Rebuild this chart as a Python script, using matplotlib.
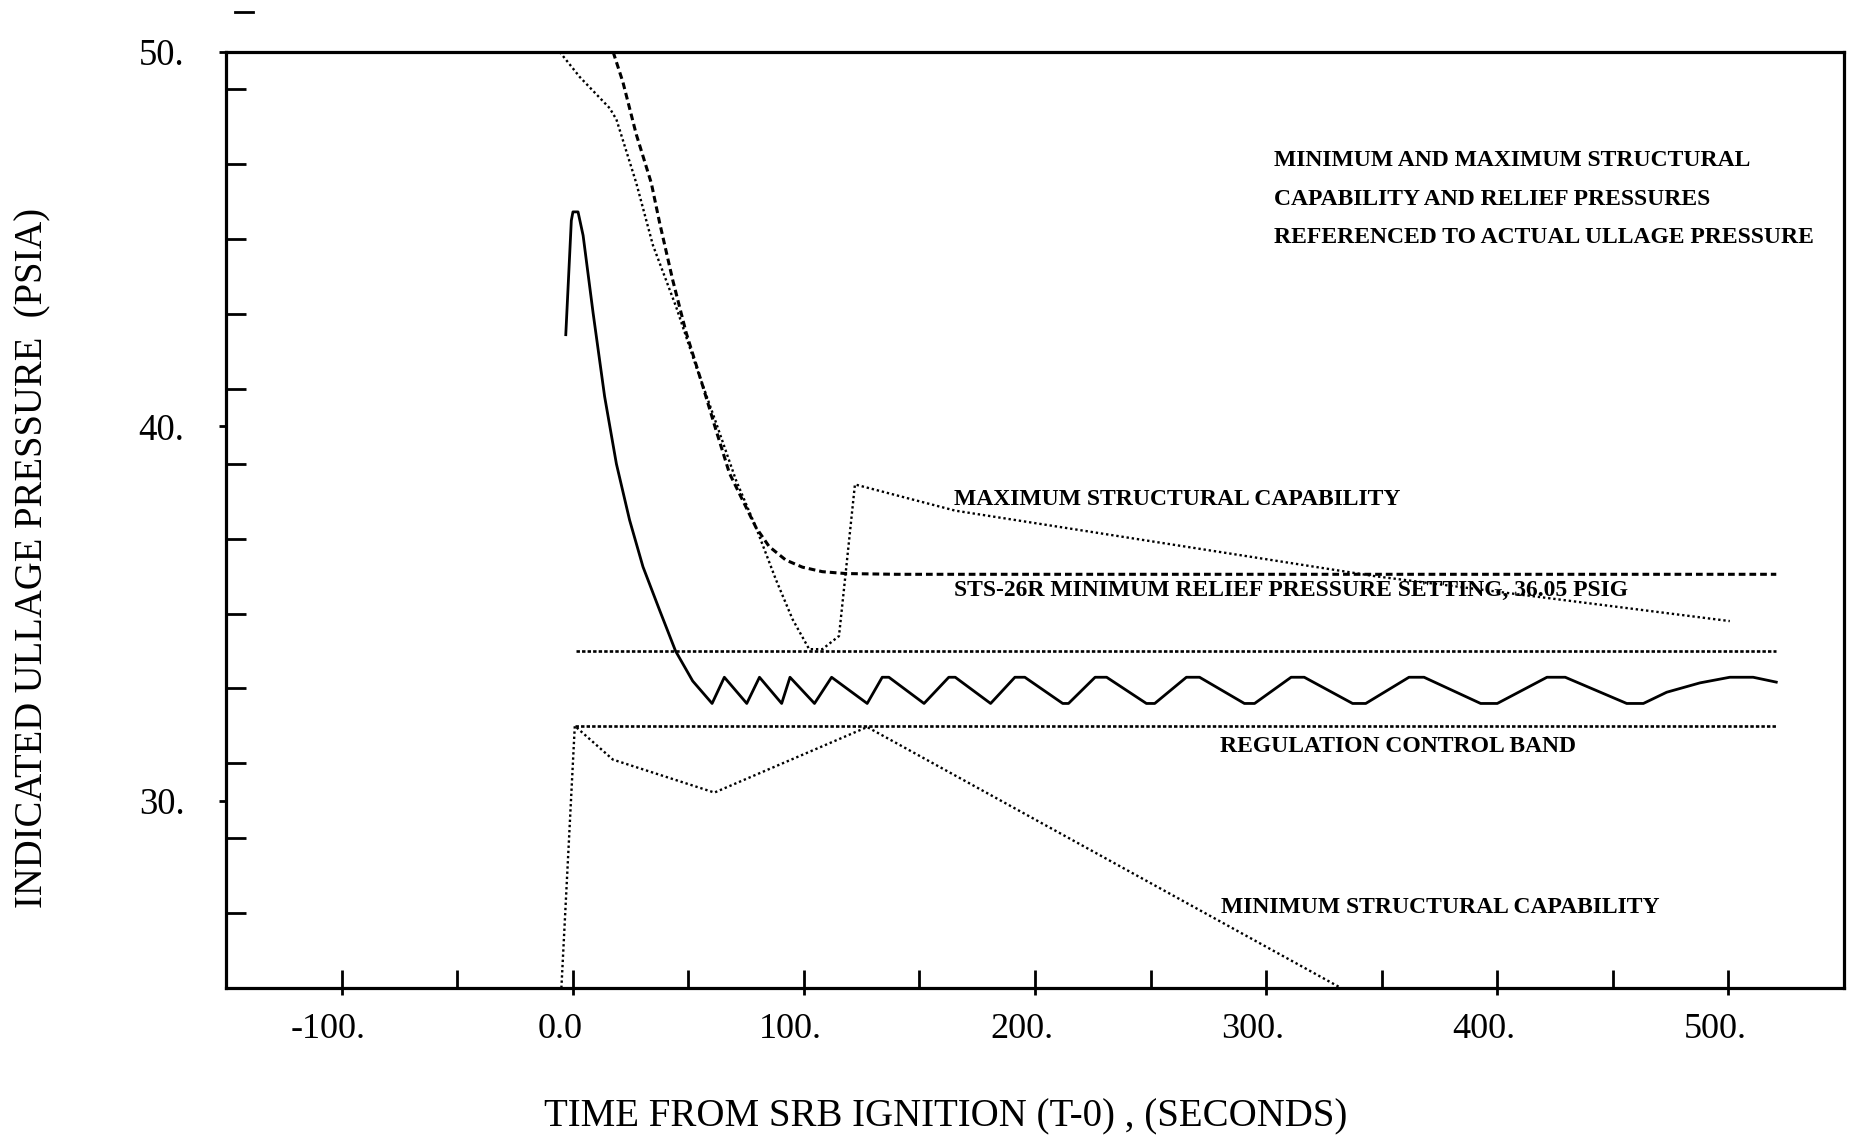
import matplotlib
matplotlib.use('Agg')
import matplotlib.pyplot as plt
from matplotlib.ticker import FixedLocator
from matplotlib.transforms import ScaledTranslation

plt.rcParams['font.family'] = ['Liberation Serif', 'DejaVu Serif']

# values: time from SRB ignition (s), pressure (psia)
ullage_t = [-3.0, -0.6, 0.1, 2.3, 4.5, 8.8, 13.8, 18.9, 24.6, 30.4, 37.6, 44.5, 51.9,
            60.3, 65.6, 75.3, 80.8, 90.4, 94.0, 104.6, 112.0, 127.4, 133.9, 136.8,
            152.0, 162.7, 165.5, 180.8, 191.3, 195.6, 212.0, 214.5, 226.0, 231.0,
            248.2, 251.8, 265.5, 271.2, 290.6, 295.0, 310.8, 316.5, 337.4, 343.1,
            361.8, 368.3, 392.8, 400.0, 421.5, 429.4, 456.0, 463.2, 473.3, 487.7,
            500.6, 510.7, 520.7]
ullage_p = [42.45, 45.5, 45.73, 45.73, 45.1, 43.04, 40.8, 39.0, 37.5, 36.25, 35.09, 34.0, 33.2,
            32.6, 33.3, 32.6, 33.3, 32.6, 33.3, 32.6, 33.3, 32.6, 33.3, 33.3,
            32.6, 33.3, 33.3, 32.6, 33.3, 33.3, 32.6, 32.6, 33.3, 33.3,
            32.6, 32.6, 33.3, 33.3, 32.6, 32.6, 33.3, 33.3, 32.6, 32.6,
            33.3, 33.3, 32.6, 32.6, 33.3, 33.3, 32.6, 32.6, 32.9, 33.15,
            33.3, 33.3, 33.17]

relief_t = [17.5, 21.7, 27.5, 34.0, 37.6, 43.3, 49.1, 56.3, 62.0, 67.8, 73.5, 79.3,
            85.0, 92.2, 99.4, 108.0, 118.0, 140.0, 520.7]
relief_p = [50.0, 49.2, 47.8, 46.5, 45.44, 43.9, 42.5, 41.07, 39.9, 38.75, 38.03, 37.3,
            36.79, 36.43, 36.24, 36.12, 36.07, 36.05, 36.05]

max_cap_t = [-5.6, 3.1, 16.0, 18.9, 27.5, 34.7, 44.7, 53.4, 62.0, 70.6, 79.3, 87.9,
             95.1, 102.3, 108.0, 115.2, 118.1, 122.1, 165.5, 347.0, 500.6]
max_cap_p = [50.0, 49.33, 48.5, 48.2, 46.5, 44.84, 43.2, 41.6, 40.1, 38.57, 37.3, 35.91,
             34.85, 34.05, 34.05, 34.4, 36.09, 38.45, 37.75, 36.0, 34.8]

min_cap_t = [-4.9, 0.9, 17.4, 61.3, 127.4, 332.4]
min_cap_p = [25.0, 32.0, 31.1, 30.22, 31.97, 25.0]

band_upper_t = [1.6, 520.7]
band_upper_p = [34.0, 34.0]
band_lower_t = [0.9, 520.7]
band_lower_p = [32.0, 32.0]

x_ticks = [-100, 0, 100, 200, 300, 400, 500]
x_tick_labels = ['-100.', '0.0', '100.', '200.', '300.', '400.', '500.']
y_ticks = [30, 40, 50]
y_tick_labels = ['30.', '40.', '50.']

fig = plt.figure(figsize=(18.54, 11.41), dpi=100)
ax = fig.add_axes([0.1219, 0.1341, 0.8727, 0.8203])

# curves
dots = (0, (1, 1.2))
ax.plot(ullage_t, ullage_p, color='black', linewidth=2.0, solid_joinstyle='round')
ax.plot(relief_t, relief_p, color='black', linewidth=2.2, linestyle=(0, (2.2, 1.3)))
ax.plot(max_cap_t, max_cap_p, color='black', linewidth=1.7, linestyle=dots)
ax.plot(min_cap_t, min_cap_p, color='black', linewidth=1.7, linestyle=dots)
ax.plot(band_upper_t, band_upper_p, color='black', linewidth=1.9, linestyle=(0, (1.3, 0.8)))
ax.plot(band_lower_t, band_lower_p, color='black', linewidth=1.9, linestyle=(0, (1.3, 0.8)))

# annotations
label_font = dict(fontsize=17, fontweight='bold', ha='left', va='center')
ax.text(303.4, 47.1, 'MINIMUM AND MAXIMUM STRUCTURAL', **label_font)
ax.text(303.4, 46.07, 'CAPABILITY AND RELIEF PRESSURES', **label_font)
ax.text(303.4, 45.05, 'REFERENCED TO ACTUAL ULLAGE PRESSURE', **label_font)
ax.text(164.8, 38.04, 'MAXIMUM STRUCTURAL CAPABILITY', **label_font)
ax.text(164.8, 35.62, 'STS-26R MINIMUM RELIEF PRESSURE SETTING, 36.05 PSIG', **label_font)
ax.text(280.2, 31.45, 'REGULATION CONTROL BAND', **label_font)
ax.text(280.6, 27.15, 'MINIMUM STRUCTURAL CAPABILITY', **label_font)

ax.set_xlim(-150, 550)
ax.set_ylim(25, 50)

# axis ticks: labelled ticks stick out, the plain ones point in
ax.set_xticks(x_ticks)
ax.set_xticklabels(x_tick_labels)
ax.xaxis.set_minor_locator(FixedLocator(list(range(-100, 501, 50))))
ax.xaxis.remove_overlapping_locs = False
ax.set_yticks(y_ticks)
ax.set_yticklabels(y_tick_labels)
ax.yaxis.set_minor_locator(FixedLocator(list(range(27, 50, 2))))

ax.tick_params(axis='x', which='major', direction='out', length=5, width=2, pad=13, labelsize=26)
ax.tick_params(axis='x', which='minor', direction='in', length=13, width=2)
ax.tick_params(axis='y', which='major', direction='out', length=5, width=2, pad=25, labelsize=26.5)
ax.tick_params(axis='y', which='minor', direction='in', length=14.5, width=2)

shift = ScaledTranslation(-0.13, 0, fig.dpi_scale_trans)
for lbl in ax.get_xticklabels():
    lbl.set_transform(lbl.get_transform() + shift)

# stray tick above the frame on the original plot
ax.plot([0.0056, 0.0167], [1.0427, 1.0427], color='black', linewidth=2,
        transform=ax.transAxes, clip_on=False)

for spine in ax.spines.values():
    spine.set_linewidth(2.3)

ax.set_xlabel('TIME FROM SRB IGNITION (T-0) , (SECONDS)', fontsize=28)
ax.set_ylabel('INDICATED ULLAGE PRESSURE  (PSIA)', fontsize=27.8)
ax.xaxis.set_label_coords(0.4446, -0.1378)
ax.yaxis.set_label_coords(-0.1193, 0.459)
ax.xaxis.label.set_verticalalignment('center')
ax.yaxis.label.set_verticalalignment('center')

fig.savefig('out.png', dpi=100)
